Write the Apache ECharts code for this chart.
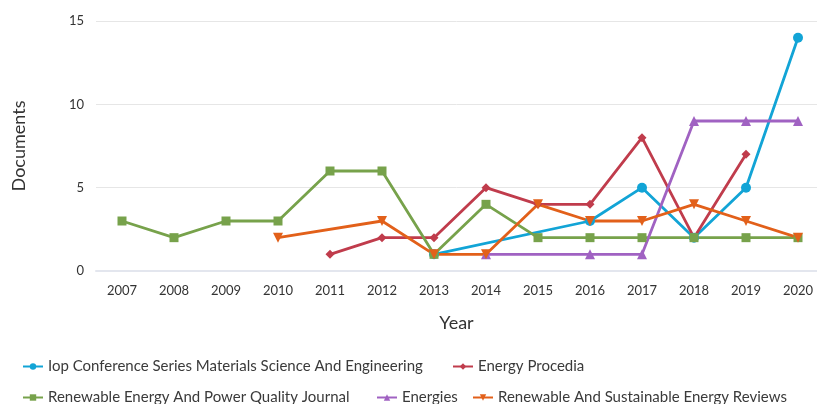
<!DOCTYPE html>
<html>
<head>
<meta charset="utf-8">
<script src="https://cdn.jsdelivr.net/npm/echarts@6/dist/echarts.min.js"></script>
<style>
  html, body { margin: 0; padding: 0; background: #fff; }
  #chart { width: 817px; height: 404px; }
</style>
</head>
<body>
<div id="chart"></div>
<script>
var years = ['2007', '2008', '2009', '2010', '2011', '2012', '2013', '2014', '2015', '2016', '2017', '2018', '2019', '2020'];

var iopConf = [null, null, null, null, null, null, 1, null, null, 3, 5, 2, 5, 14];
var energyProcedia = [null, null, null, null, 1, 2, 2, 5, 4, 4, 8, 2, 7, null];
var powerQuality = [3, 2, 3, 3, 6, 6, 1, 4, 2, 2, 2, 2, 2, 2];
var energies = [null, null, null, null, null, null, null, 1, null, 1, 1, 9, 9, 9];
var sustReviews = [null, null, null, 2, null, 3, 1, 1, 4, 3, 3, 4, 3, 2];

var names = [
    'Iop Conference Series Materials Science And Engineering',
    'Energy Procedia',
    'Renewable Energy And Power Quality Journal',
    'Energies',
    'Renewable And Sustainable Energy Reviews'
];
var colors = ['#12a4d6', '#c03c4c', '#77a24b', '#a062c2', '#e2601a'];

var chartDom = document.getElementById('chart');
var myChart = echarts.init(chartDom);
var font = 'Lato, "Open Sans", sans-serif';

function mkSeries(i, data, symbol, size, rotate) {
    return {
        name: names[i],
        type: 'line',
        xAxisIndex: 1,
        yAxisIndex: 1,
        data: data,
        connectNulls: true,
        symbol: symbol,
        symbolSize: size,
        symbolRotate: rotate || 0,
        color: colors[i],
        lineStyle: { width: 2.8, color: colors[i] },
        itemStyle: { color: colors[i] },
        animation: false
    };
}

// one legend per item so the two rows sit where they do in the picture
function mkLegend(i, left, top) {
    return {
        data: [names[i]],
        left: left,
        top: top,
        padding: 0,
        itemWidth: 20,
        itemHeight: 8,
        textStyle: { fontFamily: font, fontSize: 15, color: '#3a3a3a' }
    };
}

var option = {
    textStyle: { fontFamily: font },
    legend: [
        mkLegend(0, 22, 359),
        mkLegend(1, 452, 359),
        mkLegend(2, 22, 390),
        mkLegend(3, 376, 390),
        mkLegend(4, 472, 390)
    ],
    // grid 0 carries the gridlines and y labels, grid 1 the plotted years
    grid: [
        { left: 96, top: 21, right: 0, height: 250 },
        { left: 122, top: 21, right: 19, height: 250 }
    ],
    xAxis: [{
        type: 'value',
        gridIndex: 0,
        min: 0,
        max: 1,
        name: 'Year',
        nameLocation: 'middle',
        nameGap: 43,
        nameTextStyle: { fontFamily: font, fontSize: 18, color: '#333' },
        axisLine: { show: true, lineStyle: { color: '#e3e6ee', width: 2 } },
        axisTick: { show: false },
        axisLabel: { show: false },
        splitLine: { show: false }
    }, {
        type: 'category',
        gridIndex: 1,
        data: years,
        boundaryGap: false,
        axisLine: { show: false },
        axisTick: { show: false },
        axisLabel: { fontFamily: font, fontSize: 13, color: '#333', margin: 13 },
        splitLine: { show: false }
    }],
    yAxis: [{
        type: 'value',
        gridIndex: 0,
        min: 0,
        max: 15,
        interval: 5,
        name: 'Documents',
        nameLocation: 'middle',
        nameGap: 68,
        nameRotate: 90,
        nameTextStyle: { fontFamily: font, fontSize: 18, color: '#333' },
        axisLine: { show: false },
        axisTick: { show: false },
        axisLabel: { fontFamily: font, fontSize: 13, color: '#333', margin: 12 },
        splitLine: { lineStyle: { color: '#e6e6e6', width: 1 } }
    }, {
        type: 'value',
        gridIndex: 1,
        min: 0,
        max: 15,
        interval: 5,
        show: false,
        splitLine: { show: false }
    }],
    series: [
        mkSeries(0, iopConf, 'circle', 10),
        mkSeries(1, energyProcedia, 'diamond', 9),
        mkSeries(2, powerQuality, 'rect', 9),
        mkSeries(3, energies, 'triangle', 10),
        mkSeries(4, sustReviews, 'triangle', 10, 180)
    ]
};

option && myChart.setOption(option);
</script>
</body>
</html>
